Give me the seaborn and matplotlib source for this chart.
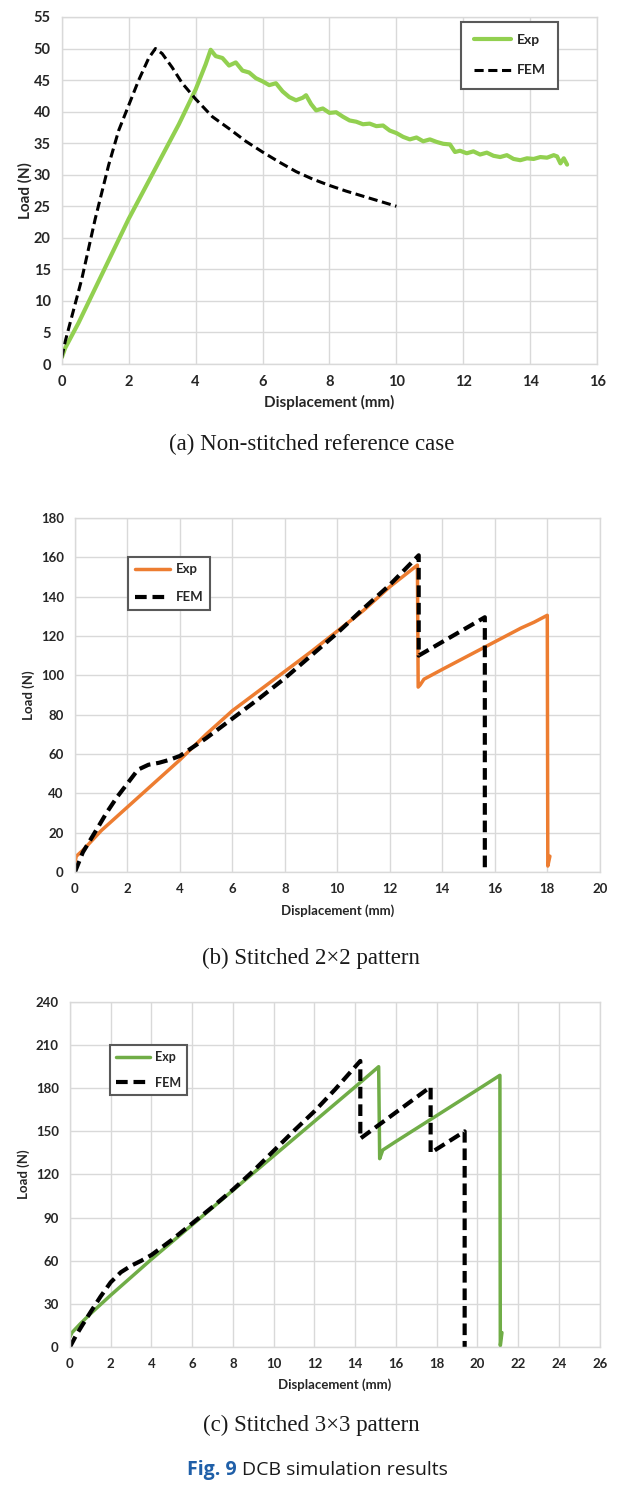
import matplotlib.pyplot as plt
import seaborn as sns

# (a) non-stitched
a_exp_x = [0, 0.1, 0.5, 1.0, 1.5, 2.0, 2.5, 3.0, 3.5, 4.0, 4.3, 4.45, 4.6, 4.8, 5.0, 5.2, 5.4,
           5.6, 5.8, 6.0, 6.2, 6.4, 6.6, 6.8, 7.0, 7.2, 7.3, 7.45, 7.6, 7.8, 8.0, 8.2, 8.4, 8.6,
           8.8, 9.0, 9.2, 9.4, 9.6, 9.8, 10.0, 10.2, 10.4, 10.6, 10.8, 11.0, 11.2, 11.4, 11.6,
           11.75, 11.9, 12.1, 12.3, 12.5, 12.7, 12.9, 13.1, 13.3, 13.5, 13.7, 13.9, 14.1, 14.3,
           14.5, 14.7, 14.8, 14.9, 15.0, 15.1]
a_exp_y = [1, 2.5, 6.5, 12, 17.5, 23, 28, 33, 38, 43.5, 47.5, 49.8, 48.8, 48.5, 47.3, 47.8, 46.5,
           46.2, 45.3, 44.8, 44.2, 44.5, 43.2, 42.3, 41.8, 42.2, 42.6, 41.2, 40.2, 40.5, 39.8, 39.9,
           39.2, 38.6, 38.4, 38.0, 38.1, 37.7, 37.8, 37.0, 36.6, 36.0, 35.6, 35.9, 35.3, 35.6, 35.2,
           34.9, 34.8, 33.6, 33.8, 33.4, 33.7, 33.2, 33.5, 33.0, 32.8, 33.1, 32.5, 32.3, 32.6, 32.5,
           32.8, 32.7, 33.1, 32.9, 31.8, 32.6, 31.6]
a_fem_x = [0, 0.1, 0.3, 0.6, 1.0, 1.4, 1.7, 2.0, 2.3, 2.6, 2.8, 3.0, 3.3, 3.6, 4.0, 4.5, 5.0,
           5.5, 6.0, 6.5, 7.0, 7.5, 8.0, 8.5, 9.0, 9.5, 10.0]
a_fem_y = [1, 3.5, 7.5, 13.5, 23, 31.5, 37, 41, 45, 48.5, 50, 49.2, 47, 44.5, 42, 39.2, 37.3,
           35.3, 33.6, 32, 30.5, 29.3, 28.3, 27.4, 26.6, 25.8, 25.0]

# (b) stitched 2x2
b_exp_x = [0, 0.05, 0.3, 1, 2, 3, 4, 5, 6, 7, 8, 9, 10, 11, 12, 13.05, 13.08, 13.15, 13.3,
           14, 15, 16, 17, 17.5, 18.0, 18.02, 18.1]
b_exp_y = [5, 8, 11, 21, 33, 45, 57, 70, 82, 92, 102, 112, 122.5, 133, 145, 156, 94, 95, 98,
           103, 110, 117, 124, 127, 130.5, 3, 8]
b_fem_x = [0, 0.3, 0.8, 1.2, 1.6, 2.0, 2.4, 2.8, 3.2, 3.6, 4.0, 5.0, 6.0, 7.0, 8.0, 9.0, 10.0,
           11.0, 12.0, 13.1, 13.1, 15.62, 15.62]
b_fem_y = [0, 10, 21, 30, 38, 45, 52, 54.5, 55.5, 57, 59, 68, 78, 88, 98.5, 110, 121.5, 134,
           146, 161, 110, 129.5, 0]

# (c) stitched 3x3
c_exp_x = [0, 0.1, 0.5, 1, 2, 4, 6, 8, 10, 12, 14, 15.15, 15.2, 15.35, 16, 18, 20, 21.1,
           21.12, 21.2]
c_exp_y = [7, 10, 16, 23, 36, 61, 85, 109, 133, 157, 181, 195, 131, 137, 143, 161, 179, 189,
           1, 10]
c_fem_x = [0, 0.3, 0.6, 1.0, 1.5, 2.0, 2.5, 3.0, 3.5, 4.0, 5.0, 6.0, 7.0, 8.0, 9.0, 10.0, 11.0,
           12.0, 13.0, 14.25, 14.25, 17.7, 17.7, 19.37, 19.37]
c_fem_y = [0, 8, 15, 24, 35, 45, 52, 56.5, 60, 64, 74.5, 86, 97.5, 109.5, 122.5, 136.5, 150.5,
           164, 179, 199, 145, 181, 135, 150, 0]

captions = ["(a) Non-stitched reference case", "(b) Stitched 2\u00d72 pattern",
            "(c) Stitched 3\u00d73 pattern"]

sns.set_theme(style="whitegrid", rc={"grid.color": "#D9D9D9", "grid.linewidth": 1.0,
                                     "axes.edgecolor": "#D9D9D9", "axes.linewidth": 1.0})
plt.rcParams['font.family'] = ['Lato', 'DejaVu Sans']

fig = plt.figure(figsize=(6.3, 14.9), dpi=100)


def draw_panel(rect, exp_x, exp_y, fem_x, fem_y, color, xmax, ymax, ystep, tick_fs, lab_fs,
               exp_lw, fem_lw, dash, ylabpad, xlabpad, leg_anchor, leg_fs, leg_spacing, leg_pad):
    ax = fig.add_axes(rect)
    sns.lineplot(x=exp_x, y=exp_y, sort=False, estimator=None, color=color, lw=exp_lw,
                 label="Exp", ax=ax)
    sns.lineplot(x=fem_x, y=fem_y, sort=False, estimator=None, color="black", lw=fem_lw,
                 linestyle=(0, dash), label="FEM", ax=ax)
    ax.set_xlim(0, xmax)
    ax.set_ylim(0, ymax)
    ax.set_xticks(range(0, xmax + 1, 2))
    ax.set_yticks(range(0, ymax + 1, ystep))
    ax.tick_params(length=0, labelsize=tick_fs, colors="#262626", pad=8)
    for lab in ax.get_xticklabels() + ax.get_yticklabels():
        lab.set_fontweight("bold")
    ax.set_xlabel("Displacement (mm)", fontsize=lab_fs, fontweight="bold", color="#262626",
                  labelpad=xlabpad)
    ax.set_ylabel("Load (N)", fontsize=lab_fs, fontweight="bold", color="#262626",
                  labelpad=ylabpad)
    leg = ax.legend(loc="upper left", bbox_to_anchor=leg_anchor, frameon=True, fancybox=False,
                    edgecolor="#595959", framealpha=1, prop={"weight": "bold", "size": leg_fs},
                    labelspacing=leg_spacing, borderpad=leg_pad, handlelength=2.7,
                    handletextpad=0.4, borderaxespad=0)
    leg.get_frame().set_linewidth(1.5)
    return ax


draw_panel([0.098, 0.7557, 0.850, 0.2329], a_exp_x, a_exp_y, a_fem_x, a_fem_y, "#92D050",
           16, 55, 5, 10.5, 11, 3.0, 2.2, (3, 1.5), 1, 4, (0.746, 0.986), 10, 1.3, 0.9)
draw_panel([0.119, 0.4148, 0.833, 0.2376], b_exp_x, b_exp_y, b_fem_x, b_fem_y, "#ED7D31",
           20, 180, 20, 9.5, 9.5, 2.5, 3.0, (2.8, 1.4), 4, 7, (0.101, 0.890), 9.5, 1.2, 0.5)
draw_panel([0.111, 0.0960, 0.841, 0.2315], c_exp_x, c_exp_y, c_fem_x, c_fem_y, "#70AD47",
           26, 240, 30, 9.5, 9.5, 2.5, 3.0, (2.8, 1.4), 4, 6, (0.0755, 0.875), 9, 1.05, 0.5)

for txt, yy in zip(captions, [0.702, 0.357, 0.0436]):
    fig.text(0.494, yy, txt, ha="center", va="center", fontsize=16.5,
             family=["Liberation Serif", "DejaVu Serif"], color="#1a1a1a")

t1 = fig.text(0.297, 0.0134, "Fig. 9", ha="left", va="center", fontsize=14, fontweight="bold",
              family=["Open Sans", "DejaVu Sans"], color="#1F5FA8")
fig.canvas.draw()
bb = t1.get_window_extent()
fig.text((bb.x1 + 5) / fig.bbox.width, 0.0134, "DCB simulation results", ha="left", va="center",
         fontsize=14, family=["Open Sans", "DejaVu Sans"], color="#1a1a1a")

fig.savefig("out.png", dpi=100)
